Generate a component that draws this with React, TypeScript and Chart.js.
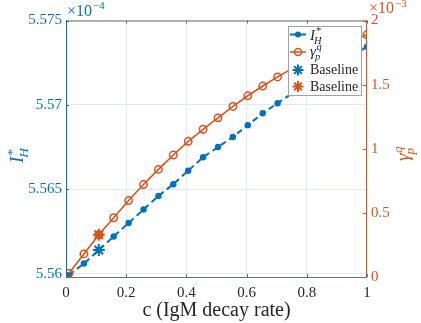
import React, { useEffect, useRef } from "react";
import { Chart, registerables } from "chart.js";

Chart.register(...registerables);

// c (IgM decay rate) sample points
const cValues = [
  0.01, 0.0595, 0.109, 0.1585, 0.208, 0.2575, 0.307, 0.3565, 0.406, 0.4555,
  0.505, 0.5545, 0.604, 0.6535, 0.703, 0.7525, 0.802, 0.8515, 0.901, 0.9505, 1.0,
];
// I*_H (true values, shown as x10^-4)
const iHValues = [
  5.55992e-4, 5.5606e-4, 5.5614e-4, 5.5622e-4, 5.5630e-4, 5.5638e-4, 5.5646e-4,
  5.5653e-4, 5.5661e-4, 5.5669e-4, 5.5675e-4, 5.5681e-4, 5.5688e-4, 5.5695e-4,
  5.5701e-4, 5.5707e-4, 5.5713e-4, 5.5719e-4, 5.5724e-4, 5.5729e-4, 5.57345e-4,
];
// gamma^q_p (true values, shown as x10^-3)
const gammaValues = [
  0.029e-3, 0.18e-3, 0.329e-3, 0.462e-3, 0.596e-3, 0.721e-3, 0.839e-3, 0.951e-3,
  1.058e-3, 1.152e-3, 1.241e-3, 1.33e-3, 1.413e-3, 1.489e-3, 1.56e-3, 1.627e-3,
  1.689e-3, 1.746e-3, 1.798e-3, 1.845e-3, 1.889e-3,
];
const baselineC = 0.109;
const baselineIH = 5.5614e-4;
const baselineGamma = 0.329e-3;

const xTicks = [0, 0.2, 0.4, 0.6, 0.8, 1];
const leftTicks = [5.56e-4, 5.565e-4, 5.57e-4, 5.575e-4];
const rightTicks = [0, 0.5e-3, 1e-3, 1.5e-3, 2e-3];
const leftMin = 5.5598e-4;
const leftMax = 5.575e-4;
const rightMin = 0;
const rightMax = 2e-3;

const BLUE = "#0072BD";
const ORANGE = "#D95319";
const DARK = "#262626";
const SERIF = "'Liberation Serif', 'Times New Roman', serif";

function fmt(v: number, scale: number) {
  const s = (v * scale).toFixed(4);
  return String(parseFloat(s));
}

function drawSupSub(
  ctx: CanvasRenderingContext2D,
  base: string,
  sup: string,
  sub: string,
  x: number,
  y: number,
  size: number,
  color: string
) {
  ctx.fillStyle = color;
  ctx.textBaseline = "alphabetic";
  ctx.textAlign = "left";
  ctx.font = `italic ${size}px ${SERIF}`;
  ctx.fillText(base, x, y);
  const w = ctx.measureText(base).width;
  const s = size * 0.7;
  ctx.font = `italic ${s}px ${SERIF}`;
  ctx.fillText(sup, x + w + 0.5, y - size * 0.38);
  ctx.fillText(sub, x + w - 1, y + size * 0.25);
  return w;
}

function drawStar(ctx: CanvasRenderingContext2D, x: number, y: number, r: number, color: string) {
  ctx.save();
  ctx.strokeStyle = color;
  ctx.lineWidth = 2;
  ctx.beginPath();
  for (let i = 0; i < 4; i++) {
    const a = (i * Math.PI) / 4;
    ctx.moveTo(x - r * Math.cos(a), y - r * Math.sin(a));
    ctx.lineTo(x + r * Math.cos(a), y + r * Math.sin(a));
  }
  ctx.stroke();
  ctx.restore();
}

const decorPlugin = {
  id: "decor",
  afterDatasetsDraw(chart: any) {
    const ctx: CanvasRenderingContext2D = chart.ctx;
    const { left, right, top, bottom } = chart.chartArea;
    const xs = chart.scales.x;
    const yl = chart.scales.yL;
    const yr = chart.scales.yR;
    ctx.save();
    // borders
    ctx.lineWidth = 1;
    ctx.strokeStyle = "#6e6e6e";
    ctx.beginPath();
    ctx.moveTo(left, bottom + 0.5);
    ctx.lineTo(right, bottom + 0.5);
    ctx.moveTo(left, top + 0.5);
    ctx.lineTo(right, top + 0.5);
    ctx.stroke();
    // x ticks inward (bottom and top)
    ctx.beginPath();
    xTicks.forEach((t) => {
      const px = Math.round(xs.getPixelForValue(t)) + 0.5;
      ctx.moveTo(px, bottom);
      ctx.lineTo(px, bottom - 3);
      ctx.moveTo(px, top);
      ctx.lineTo(px, top + 3);
    });
    ctx.stroke();
    // left axis
    ctx.strokeStyle = BLUE;
    ctx.beginPath();
    ctx.moveTo(left + 0.5, top);
    ctx.lineTo(left + 0.5, bottom + 1);
    leftTicks.forEach((t) => {
      const py = Math.round(yl.getPixelForValue(t)) + 0.5;
      ctx.moveTo(left, py);
      ctx.lineTo(left + 3, py);
    });
    ctx.stroke();
    // right axis
    ctx.strokeStyle = ORANGE;
    ctx.beginPath();
    ctx.moveTo(right - 0.5, top);
    ctx.lineTo(right - 0.5, bottom + 1);
    rightTicks.forEach((t) => {
      const py = Math.round(yr.getPixelForValue(t)) + 0.5;
      ctx.moveTo(right, py);
      ctx.lineTo(right - 4, py);
    });
    ctx.stroke();

    // exponent labels
    ctx.textBaseline = "alphabetic";
    ctx.textAlign = "left";
    ctx.fillStyle = BLUE;
    ctx.font = `16px ${SERIF}`;
    ctx.fillText("×10", left + 1, 16);
    let w = ctx.measureText("×10").width;
    ctx.font = `11px ${SERIF}`;
    ctx.fillText("−4", left + 1 + w + 1, 9);
    ctx.fillStyle = ORANGE;
    ctx.font = `16px ${SERIF}`;
    ctx.fillText("×10", right + 2, 13);
    w = ctx.measureText("×10").width;
    ctx.font = `11px ${SERIF}`;
    ctx.fillText("−3", right + 2 + w + 1, 7);

    // left axis title
    ctx.save();
    ctx.translate(23, 163);
    ctx.rotate(-Math.PI / 2);
    drawSupSub(ctx, "I", "*", "H", 0, 0, 19, BLUE);
    ctx.restore();
    // right axis title
    ctx.save();
    ctx.translate(409, 161);
    ctx.rotate(-Math.PI / 2);
    drawSupSub(ctx, "γ", "q", "p", 0, 0, 19, ORANGE);
    ctx.restore();

    // legend
    const lx = 288, ly = 26, lw = 74, lh = 70;
    ctx.fillStyle = "#ffffff";
    ctx.fillRect(lx, ly, lw, lh);
    ctx.strokeStyle = "#a0a0a0";
    ctx.lineWidth = 1;
    ctx.strokeRect(lx + 0.5, ly + 0.5, lw - 1, lh - 1);
    // row 1
    const r1 = 34.5;
    ctx.save();
    ctx.strokeStyle = BLUE;
    ctx.lineWidth = 2;
    ctx.setLineDash([6, 4]);
    ctx.beginPath();
    ctx.moveTo(290, r1);
    ctx.lineTo(306, r1);
    ctx.stroke();
    ctx.restore();
    ctx.fillStyle = BLUE;
    ctx.beginPath();
    ctx.arc(298, r1, 3, 0, Math.PI * 2);
    ctx.fill();
    drawSupSub(ctx, "I", "*", "H", 310, 40, 15, DARK);
    // row 2
    const r2 = 52;
    ctx.strokeStyle = ORANGE;
    ctx.lineWidth = 1.5;
    ctx.beginPath();
    ctx.moveTo(290, r2);
    ctx.lineTo(306, r2);
    ctx.stroke();
    ctx.beginPath();
    ctx.arc(298, r2, 3.5, 0, Math.PI * 2);
    ctx.stroke();
    drawSupSub(ctx, "γ", "q", "p", 310, 56, 15, DARK);
    // row 3, 4
    drawStar(ctx, 298, 70, 5.5, BLUE);
    drawStar(ctx, 298, 86.5, 5.5, ORANGE);
    ctx.fillStyle = DARK;
    ctx.font = `14px ${SERIF}`;
    ctx.textBaseline = "middle";
    ctx.fillText("Baseline", 310, 70.5);
    ctx.fillText("Baseline", 310, 87);
    ctx.restore();
  },
};

export default function App() {
  const ref = useRef<HTMLCanvasElement | null>(null);
  useEffect(() => {
    document.body.style.margin = "0";
    const blueData = cValues.map((c, i) => ({ x: c, y: iHValues[i] }));
    const orangeData = cValues.map((c, i) => ({ x: c, y: gammaValues[i] }));
    const chart = new Chart(ref.current as HTMLCanvasElement, {
      type: "line",
      data: {
        datasets: [
          {
            label: "Baseline I",
            data: [{ x: baselineC, y: baselineIH }],
            yAxisID: "yL",
            showLine: false,
            pointStyle: "star",
            pointRadius: 6,
            borderColor: BLUE,
            backgroundColor: BLUE,
            pointBorderWidth: 2,
            order: 0,
            clip: 0,
          },
          {
            label: "Baseline g",
            data: [{ x: baselineC, y: baselineGamma }],
            yAxisID: "yR",
            showLine: false,
            pointStyle: "star",
            pointRadius: 6,
            borderColor: ORANGE,
            backgroundColor: ORANGE,
            pointBorderWidth: 2,
            order: 0,
            clip: 0,
          },
          {
            label: "gamma",
            data: orangeData,
            yAxisID: "yR",
            borderColor: ORANGE,
            borderWidth: 1.6,
            pointStyle: "circle",
            pointRadius: 3.7,
            pointBorderWidth: 1.5,
            pointBorderColor: ORANGE,
            pointBackgroundColor: "rgba(0,0,0,0)",
            tension: 0,
            order: 1,
            clip: 0,
          },
          {
            label: "IH",
            data: blueData,
            yAxisID: "yL",
            borderColor: BLUE,
            borderWidth: 2,
            borderDash: [6, 4],
            pointStyle: "circle",
            pointRadius: 3.2,
            pointBorderWidth: 0,
            pointBackgroundColor: BLUE,
            tension: 0,
            order: 2,
            clip: 0,
          },
        ],
      },
      options: {
        animation: false,
        responsive: false,
        maintainAspectRatio: false,
        devicePixelRatio: 1,
        layout: { padding: { top: 20.5, left: 0, right: 0, bottom: 0 } },
        plugins: { legend: { display: false }, tooltip: { enabled: false } },
        scales: {
          x: {
            type: "linear",
            min: 0,
            max: 1,
            afterBuildTicks: (s: any) => {
              s.ticks = xTicks.map((v) => ({ value: v }));
            },
            afterFit: (s: any) => {
              s.height = 46;
            },
            border: { display: false },
            grid: { color: "#e6e9ec", drawTicks: false, lineWidth: 1 },
            ticks: {
              color: DARK,
              padding: 7,
              font: { family: SERIF, size: 15 },
              callback: (v: any) => String(v),
              maxRotation: 0,
            },
            title: {
              display: true,
              text: "c (IgM decay rate)",
              color: DARK,
              font: { family: SERIF, size: 20 },
              padding: { top: 0, bottom: 0 },
            },
          },
          yL: {
            type: "linear",
            position: "left",
            min: leftMin,
            max: leftMax,
            afterBuildTicks: (s: any) => {
              s.ticks = leftTicks.map((v) => ({ value: v }));
            },
            afterFit: (s: any) => {
              s.width = 66;
            },
            border: { display: false },
            grid: { color: "#e2eaf1", drawTicks: false },
            ticks: {
              color: BLUE,
              padding: 4,
              font: { family: SERIF, size: 15 },
              callback: (v: any) => fmt(v, 1e4),
            },
          },
          yR: {
            type: "linear",
            position: "right",
            min: rightMin,
            max: rightMax,
            afterBuildTicks: (s: any) => {
              s.ticks = rightTicks.map((v) => ({ value: v }));
            },
            afterFit: (s: any) => {
              s.width = 54;
            },
            border: { display: false },
            grid: { display: false, drawTicks: false },
            ticks: {
              color: ORANGE,
              padding: 4,
              font: { family: SERIF, size: 15 },
              callback: (v: any) => fmt(v, 1e3),
            },
          },
        },
      },
      plugins: [decorPlugin],
    } as any);
    return () => chart.destroy();
  }, []);
  return (
    <div style={{ position: "absolute", left: 0, top: 0, width: 421, height: 323 }}>
      <canvas ref={ref} width={421} height={323} style={{ width: 421, height: 323 }} />
    </div>
  );
}
